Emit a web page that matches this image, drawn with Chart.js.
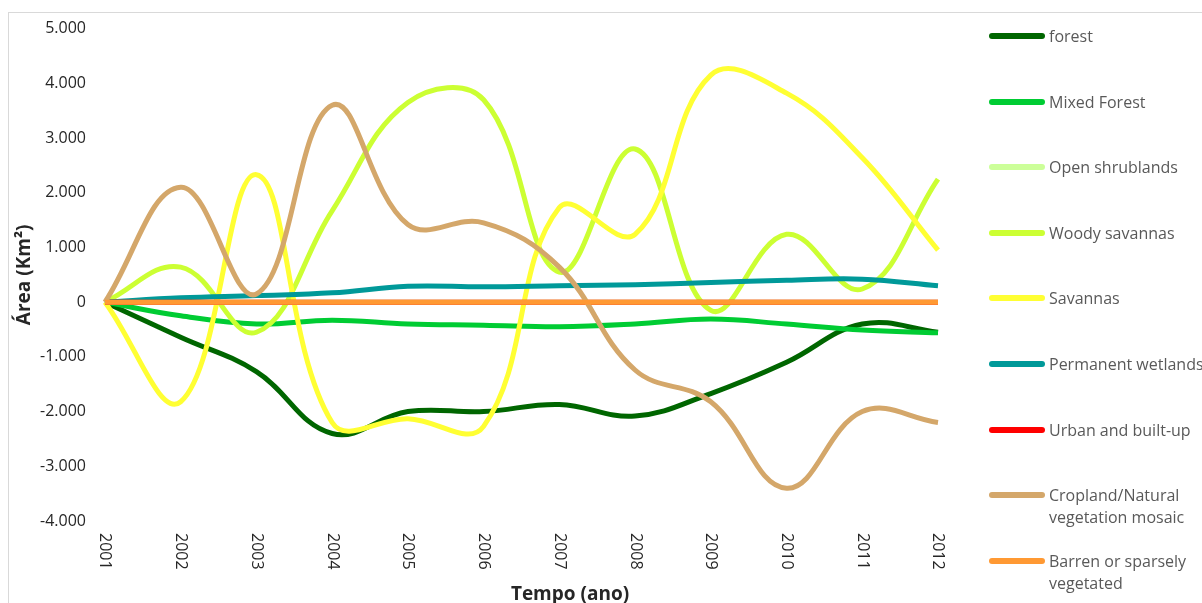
<!DOCTYPE html>
<html>
<head>
<meta charset="utf-8">
<script src="https://cdn.jsdelivr.net/npm/chart.js@4"></script>
<style>
  body { margin: 0; background: #fff; font-family: "Open Sans", sans-serif; }
  #wrap { position: relative; width: 1202px; height: 603px; overflow: hidden; }
  #frame { position: absolute; left: 8px; top: 12px; width: 1300px; height: 700px; border: 1px solid #d9d9d9; }
  #chartBox { position: absolute; left: 0; top: 0; width: 1202px; height: 603px; }
  #legend { position: absolute; left: 0; top: 0; }
  .item { position: absolute; left: 989px; font-size: 16px; color: #595959; line-height: 22px; white-space: nowrap; }
  .item span.line { position: absolute; left: 0; width: 56px; height: 6px; border-radius: 3px; top: 8px; }
  .item span.txt { position: absolute; left: 60px; top: 0; }
</style>
</head>
<body>
<div id="wrap">
  <div id="frame"></div>
  <div id="chartBox"><canvas id="grafico" width="1202" height="603"></canvas></div>
  <div id="legend"></div>
</div>
<script>
// anos
const anos = ['2001', '2002', '2003', '2004', '2005', '2006', '2007', '2008', '2009', '2010', '2011', '2012'];

const forest = [0, -640, -1270, -2400, -2000, -2000, -1870, -2080, -1670, -1100, -400, -550];
const mixedForest = [0, -250, -400, -330, -400, -420, -450, -400, -310, -400, -510, -560];
const openShrublands = [0, 0, 0, 0, 0, 0, 0, 0, 0, 0, 0, 0];
const woodySavannas = [0, 640, -550, 1670, 3650, 3700, 550, 2800, -150, 1240, 240, 2250];
const savannas = [0, -1820, 2330, -2200, -2130, -2270, 1730, 1240, 4150, 3820, 2640, 950];
const wetlands = [0, 80, 120, 170, 290, 280, 300, 320, 360, 400, 420, 300];
const urban = [0, 0, 0, 0, 0, 0, 0, 0, 0, 0, 0, 0];
const cropland = [0, 2100, 150, 3600, 1420, 1450, 640, -1240, -1820, -3400, -2000, -2200];
const barren = [0, 0, 0, 0, 0, 0, 0, 0, 0, 0, 0, 0];

const nomes = ['forest', 'Mixed Forest', 'Open shrublands', 'Woody savannas', 'Savannas',
  'Permanent wetlands', 'Urban and built-up', ['Cropland/Natural', 'vegetation mosaic'],
  ['Barren or sparsely', 'vegetated']];
const series = [forest, mixedForest, openShrublands, woodySavannas, savannas, wetlands, urban, cropland, barren];
const cores = ['#006600', '#00CC33', '#CCFF99', '#CCFF33', '#FFFF33', '#009999', '#FF0000', '#D4A76A', '#FF9933'];

const yTicks = [-4000, -3000, -2000, -1000, 0, 1000, 2000, 3000, 4000, 5000];

function formatar(v) {
  const s = Math.abs(v).toString().replace(/\B(?=(\d{3})+(?!\d))/g, '.');
  return (v < 0 ? '-' : '') + s;
}

// rotulos do eixo x girados no sentido horario + titulos dos eixos
const eixos = {
  id: 'eixos',
  afterDraw(chart) {
    const ctx = chart.ctx;
    const x = chart.scales.x;
    const area = chart.chartArea;
    const base = area.bottom + 12;
    ctx.save();
    ctx.fillStyle = '#262626';
    ctx.font = '16px "Open Sans", sans-serif';
    ctx.textAlign = 'left';
    ctx.textBaseline = 'middle';
    anos.forEach((a, i) => {
      ctx.save();
      ctx.translate(x.getPixelForValue(i), base);
      ctx.rotate(Math.PI / 2);
      ctx.fillText(a, 0, 0);
      ctx.restore();
    });
    ctx.font = 'bold 19px "Open Sans", sans-serif';
    ctx.textAlign = 'center';
    ctx.textBaseline = 'alphabetic';
    ctx.fillText('Tempo (ano)', 570, 600);
    ctx.save();
    ctx.translate(25, (area.top + area.bottom) / 2);
    ctx.rotate(-Math.PI / 2);
    ctx.textBaseline = 'middle';
    ctx.fillText('Área (Km²)', 0, 0);
    ctx.restore();
    ctx.restore();
  }
};

const grafico = new Chart(document.getElementById('grafico'), {
  type: 'line',
  data: {
    labels: anos,
    datasets: series.map((d, i) => ({
      label: Array.isArray(nomes[i]) ? nomes[i].join(' ') : nomes[i],
      data: d,
      borderColor: cores[i],
      backgroundColor: cores[i],
      borderWidth: 5,
      pointRadius: 0,
      tension: 0.4,
      order: series.length - i,
      fill: false
    }))
  },
  options: {
    responsive: false,
    animation: false,
    events: [],
    layout: { padding: { left: 21, right: 264, top: 12, bottom: 82 } },
    plugins: {
      legend: { display: false },
      tooltip: { enabled: false }
    },
    scales: {
      x: {
        offset: false,
        grid: { display: false, drawTicks: false },
        border: { display: false },
        ticks: { display: false }
      },
      y: {
        min: -4000,
        max: 5000,
        afterBuildTicks(axis) { axis.ticks = yTicks.map(v => ({ value: v })); },
        grid: { display: false, drawTicks: false },
        border: { display: false },
        ticks: {
          padding: 19,
          color: '#262626',
          font: { size: 16, family: '"Open Sans", sans-serif' },
          callback: v => formatar(v)
        }
      }
    }
  },
  plugins: [eixos]
});

// legenda
const legenda = document.getElementById('legend');
const topos = [25, 91, 156, 222, 287, 353, 419, 484, 550];
nomes.forEach((n, i) => {
  const el = document.createElement('div');
  el.className = 'item';
  el.style.top = topos[i] + 'px';
  const linha = document.createElement('span');
  linha.className = 'line';
  linha.style.background = cores[i];
  const txt = document.createElement('span');
  txt.className = 'txt';
  txt.innerHTML = Array.isArray(n) ? n.join('<br>') : n;
  el.appendChild(linha);
  el.appendChild(txt);
  legenda.appendChild(el);
});
</script>
</body>
</html>
